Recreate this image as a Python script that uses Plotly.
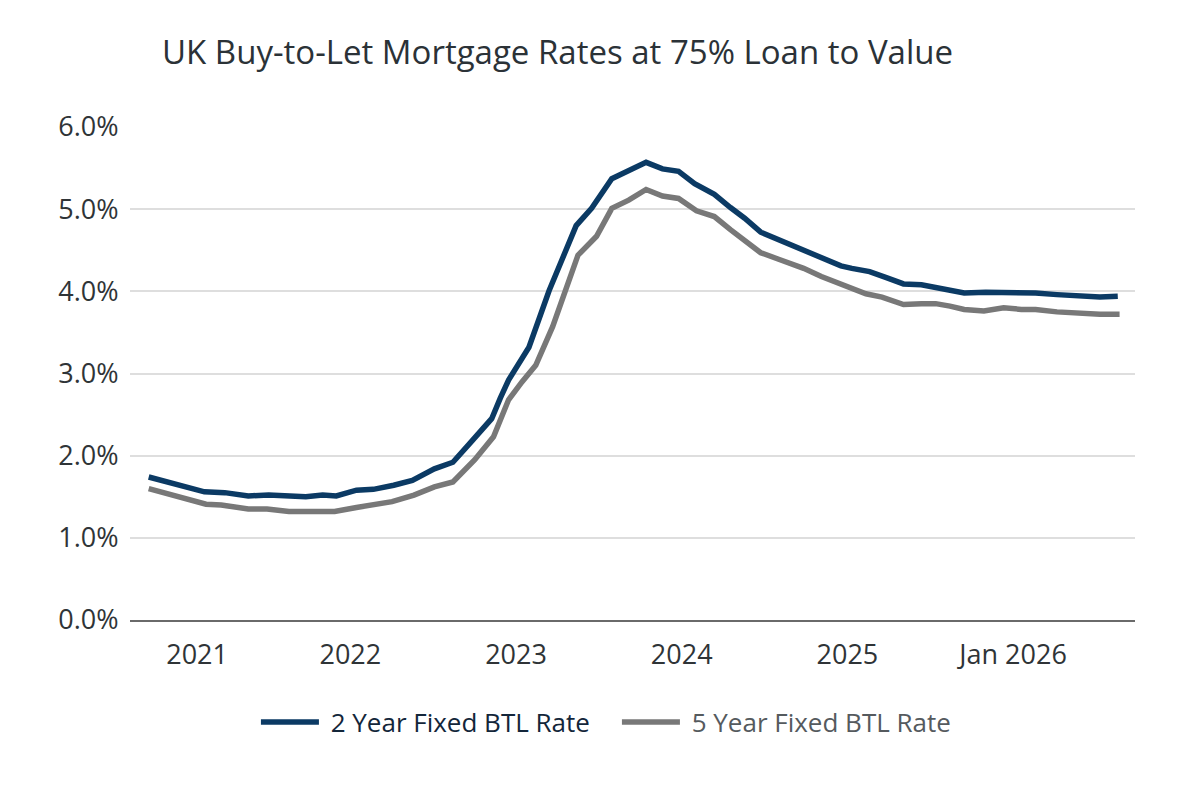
import plotly.graph_objects as go

# Time axis in decimal years
two_year_t = [2020.783, 2021.119, 2021.242, 2021.384, 2021.507, 2021.731, 2021.833, 2021.915,
              2022.037, 2022.139, 2022.262, 2022.374, 2022.507, 2022.619, 2022.721, 2022.853,
              2022.905, 2022.955, 2023.078, 2023.200, 2023.363, 2023.456, 2023.578, 2023.690,
              2023.785, 2023.884, 2023.981, 2024.078, 2024.197, 2024.294, 2024.380, 2024.477,
              2024.585, 2024.736, 2024.843, 2024.961, 2025.027, 2025.134, 2025.231, 2025.339,
              2025.447, 2025.533, 2025.619, 2025.705, 2025.835, 2025.943, 2026.050, 2026.136,
              2026.265, 2026.395, 2026.524, 2026.632]
two_year_rate = [1.74, 1.56, 1.55, 1.51, 1.52, 1.50, 1.52, 1.51,
                 1.58, 1.59, 1.64, 1.70, 1.84, 1.92, 2.15, 2.45,
                 2.70, 2.92, 3.32, 4.01, 4.80, 5.01, 5.37, 5.47,
                 5.57, 5.49, 5.46, 5.31, 5.18, 5.02, 4.89, 4.72,
                 4.63, 4.50, 4.41, 4.31, 4.28, 4.24, 4.17, 4.09,
                 4.08, 4.05, 4.01, 3.98, 3.99, 3.99, 3.98, 3.98,
                 3.96, 3.95, 3.93, 3.94]

five_year_t = [2020.783, 2021.129, 2021.221, 2021.384, 2021.497, 2021.629, 2021.731, 2021.905,
               2022.037, 2022.139, 2022.252, 2022.384, 2022.507, 2022.619, 2022.751, 2022.864,
               2022.955, 2023.037, 2023.119, 2023.221, 2023.374, 2023.486, 2023.578, 2023.680,
               2023.785, 2023.884, 2023.981, 2024.089, 2024.197, 2024.294, 2024.380, 2024.477,
               2024.585, 2024.736, 2024.843, 2024.951, 2025.027, 2025.112, 2025.209, 2025.339,
               2025.447, 2025.533, 2025.619, 2025.705, 2025.824, 2025.943, 2026.050, 2026.136,
               2026.265, 2026.395, 2026.524, 2026.643]
five_year_rate = [1.60, 1.41, 1.40, 1.35, 1.35, 1.32, 1.32, 1.32,
                  1.37, 1.40, 1.44, 1.52, 1.62, 1.68, 1.95, 2.23,
                  2.68, 2.90, 3.10, 3.57, 4.44, 4.67, 5.01, 5.11,
                  5.24, 5.16, 5.13, 4.98, 4.91, 4.75, 4.62, 4.47,
                  4.39, 4.28, 4.18, 4.09, 4.04, 3.97, 3.93, 3.84,
                  3.85, 3.85, 3.82, 3.78, 3.76, 3.80, 3.78, 3.78,
                  3.75, 3.73, 3.72, 3.72]

x_tick_vals = [2021.075, 2022.0, 2023.0, 2024.0, 2025.0, 2026.0]
x_tick_text = ["2021", "2022", "2023", "2024", "2025", "Jan 2026"]
y_tick_vals = [0, 1, 2, 3, 4, 5, 6]
y_tick_text = ["0.0%", "1.0%", "2.0%", "3.0%", "4.0%", "5.0%", "6.0%"]

FONT = "Open Sans, Noto Sans, sans-serif"

fig = go.Figure()
fig.add_trace(go.Scatter(
    x=two_year_t, y=two_year_rate, mode="lines",
    name="<span style='color:#13263a'>\u00a02 Year Fixed BTL Rate</span>",
    line=dict(color="#0b3a64", width=5.5),
))
fig.add_trace(go.Scatter(
    x=five_year_t, y=five_year_rate, mode="lines",
    name="<span style='color:#555a5e'>\u00a05 Year Fixed BTL Rate</span>",
    line=dict(color="#787878", width=5.5),
))

fig.update_layout(
    width=1200, height=800,
    paper_bgcolor="white", plot_bgcolor="white",
    margin=dict(l=122, r=73, t=119, b=188),
    font=dict(family=FONT, color="#2f3437"),
    title=dict(
        text="UK Buy-to-Let Mortgage Rates at 75% Loan to Value",
        x=154 / 1200, xref="container", xanchor="left",
        y=1 - 44 / 800, yref="container", yanchor="middle",
        font=dict(size=33, color="#2b3237", family=FONT),
    ),
    xaxis=dict(
        range=[2020.670, 2026.736],
        tickvals=x_tick_vals, ticktext=x_tick_text,
        showgrid=False, zeroline=False,
        showline=True, linecolor="#6a6a6a", linewidth=2,
        ticks="outside", ticklen=10, tickcolor="rgba(0,0,0,0)",
        tickfont=dict(size=27, color="#2f3437"),
    ),
    yaxis=dict(
        range=[0, 6.0],
        tickvals=y_tick_vals, ticktext=y_tick_text,
        showgrid=True, gridcolor="#dedede", gridwidth=1.5,
        zeroline=False, showline=False,
        ticks="outside", ticklen=5, tickcolor="rgba(0,0,0,0)",
        tickfont=dict(size=27, color="#2f3437"),
    ),
    legend=dict(
        orientation="h", x=0.1253, xanchor="left",
        y=-0.207, yanchor="middle",
        font=dict(size=26, family=FONT),
        itemwidth=58,
        entrywidth=288,
    ),
    showlegend=True,
)

fig.write_html("out.html")
